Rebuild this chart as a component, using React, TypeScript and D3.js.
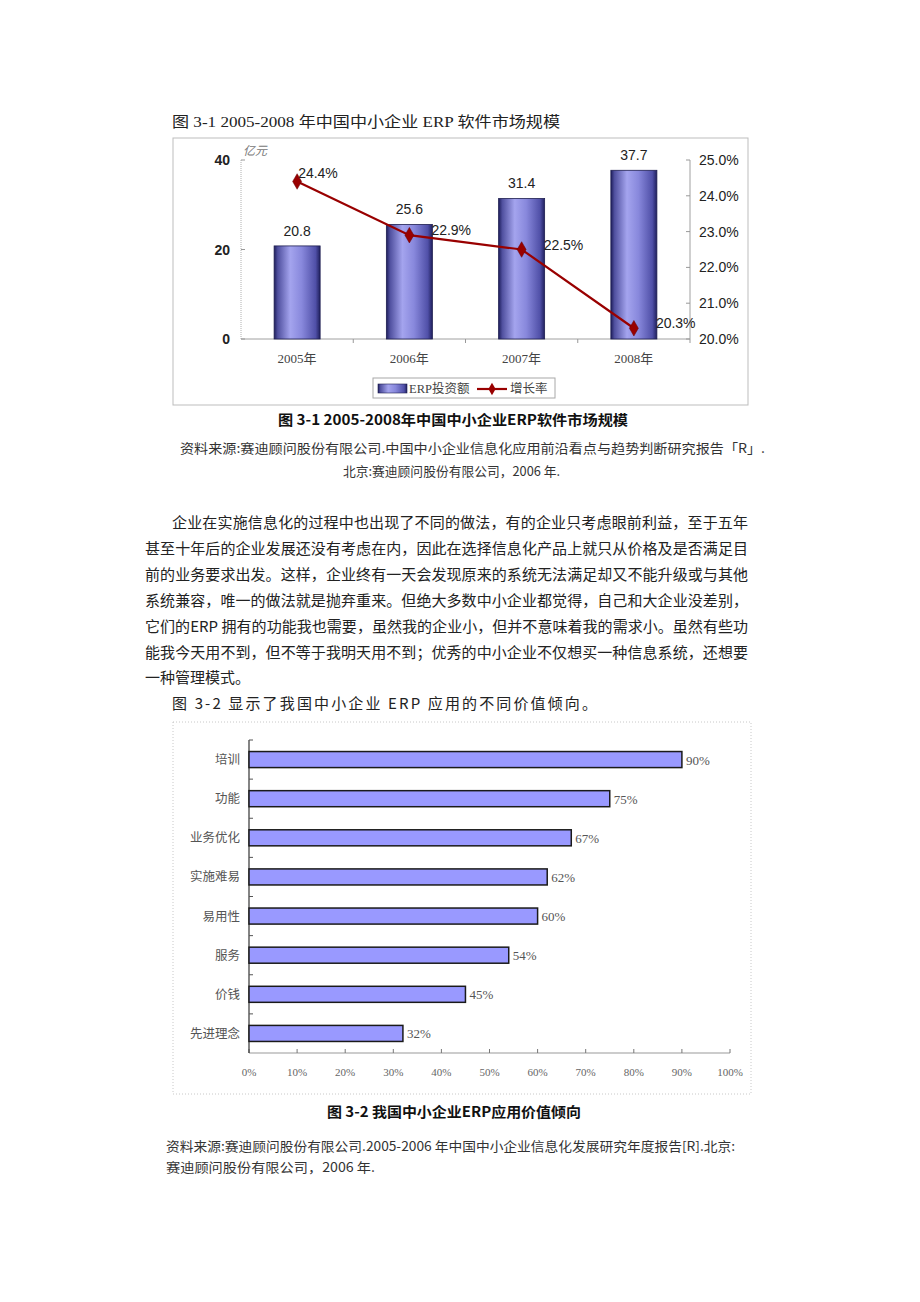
import React from "react";
import * as d3 from "d3";

// ---------- Chart 1 data ----------
const years = ["2005年", "2006年", "2007年", "2008年"];
const investment = [20.8, 25.6, 31.4, 37.7];
const growth = [24.4, 22.9, 22.5, 20.3];
const leftTicks = [0, 20, 40];
const rightTicks = [20, 21, 22, 23, 24, 25];

// ---------- Chart 2 data ----------
const factors = ["培训", "功能", "业务优化", "实施难易", "易用性", "服务", "价钱", "先进理念"];
const factorValues = [90, 75, 67, 62, 60, 54, 45, 32];
const xTicks = [0, 10, 20, 30, 40, 50, 60, 70, 80, 90, 100];

// ---------- Text ----------
const title1 = "图 3-1 2005-2008 年中国中小企业 ERP 软件市场规模";
const caption1 = "图 3-1 2005-2008年中国中小企业ERP软件市场规模";
const source1a = "资料来源:赛迪顾问股份有限公司.中国中小企业信息化应用前沿看点与趋势判断研究报告「R」.";
const source1b = "北京:赛迪顾问股份有限公司，2006 年.";
const paragraph = [
  "企业在实施信息化的过程中也出现了不同的做法，有的企业只考虑眼前利益，至于五年",
  "甚至十年后的企业发展还没有考虑在内，因此在选择信息化产品上就只从价格及是否满足目",
  "前的业务要求出发。这样，企业终有一天会发现原来的系统无法满足却又不能升级或与其他",
  "系统兼容，唯一的做法就是抛弃重来。但绝大多数中小企业都觉得，自己和大企业没差别，",
  "它们的ERP 拥有的功能我也需要，虽然我的企业小，但并不意味着我的需求小。虽然有些功",
  "能我今天用不到，但不等于我明天用不到；优秀的中小企业不仅想买一种信息系统，还想要",
  "一种管理模式。",
];
const intro2 = "图 3-2 显示了我国中小企业 ERP 应用的不同价值倾向。";
const caption2 = "图 3-2 我国中小企业ERP应用价值倾向";
const source2a = "资料来源:赛迪顾问股份有限公司.2005-2006 年中国中小企业信息化发展研究年度报告[R].北京:";
const source2b = "赛迪顾问股份有限公司，2006 年.";

const SERIF = "'Liberation Serif', 'Noto Sans CJK SC', serif";
const SANS = "'Liberation Sans', 'Noto Sans CJK SC', sans-serif";
const CJK = "'Noto Sans CJK SC', sans-serif";

export default function App() {
  // Chart 1 scales
  const x1 = d3.scaleBand<string>().domain(years).range([241, 690]).paddingInner(0.59).paddingOuter(0.295);
  const step1 = x1.step();
  const yL = d3.scaleLinear().domain([0, 40]).range([339, 160]);
  const yR = d3.scaleLinear().domain([20, 25]).range([339, 160]);
  const linePts = years.map((y, i) => [x1(y)! + x1.bandwidth() / 2, yR(growth[i])] as [number, number]);
  const lineGen = d3.line();

  // Chart 2 scales
  const x2 = d3.scaleLinear().domain([0, 100]).range([249, 730]);
  const y2 = d3.scaleBand<string>().domain(factors).range([740, 1053]).paddingInner(0.59).paddingOuter(0.295);
  const step2 = y2.step();

  const diamond = d3.symbol().type(d3.symbolDiamond).size(70)();

  return (
    <svg width={920} height={1302} style={{ position: "absolute", left: 0, top: 0, background: "#fff" }}>
      <defs>
        <linearGradient id="barGrad" x1="0" x2="1" y1="0" y2="0">
          <stop offset="0" stopColor="#1e1e5c" />
          <stop offset="0.08" stopColor="#50509f" />
          <stop offset="0.35" stopColor="#a4a4ee" />
          <stop offset="0.6" stopColor="#8888dc" />
          <stop offset="0.9" stopColor="#5050a8" />
          <stop offset="1" stopColor="#20205e" />
        </linearGradient>
      </defs>

      {/* Title above chart 1 */}
      <text x={172} y={127} fontFamily={SERIF} fontSize={15} fill="#222" textLength={388} lengthAdjust="spacingAndGlyphs">
        {title1}
      </text>

      {/* Chart 1 frame */}
      <rect x={173} y={138} width={575} height={267} fill="none" stroke="#bdbdbd" strokeWidth={1} />

      {/* axes */}
      <line x1={241} x2={241} y1={160} y2={339} stroke="#b0b0b0" strokeDasharray="1,1" />
      <line x1={241} x2={690} y1={339} y2={339} stroke="#a0a0a0" />
      <line x1={690} x2={690} y1={160} y2={339} stroke="#a0a0a0" />
      {leftTicks.map((t) => (
        <g key={"lt" + t}>
          <line x1={241} x2={245} y1={yL(t)} y2={yL(t)} stroke="#999" />
          <text x={230} y={yL(t) + 5} textAnchor="end" fontFamily={SANS} fontSize={14} fontWeight="bold" fill="#222">
            {t}
          </text>
        </g>
      ))}
      {rightTicks.map((t) => (
        <g key={"rt" + t}>
          <line x1={686} x2={690} y1={yR(t)} y2={yR(t)} stroke="#999" />
          <text x={699} y={yR(t) + 5} fontFamily={SANS} fontSize={14} fill="#222">
            {t.toFixed(1) + "%"}
          </text>
        </g>
      ))}
      {years.map((y, i) => (
        <line key={"bt" + i} x1={241 + step1 * (i + 1)} x2={241 + step1 * (i + 1)} y1={339} y2={343} stroke="#999" />
      ))}
      <text x={243} y={155} fontFamily={CJK} fontSize={12} fill="#777" fontStyle="italic">亿元</text>

      {/* bars */}
      {years.map((y, i) => (
        <g key={"b" + y}>
          <rect
            x={x1(y)!}
            y={yL(investment[i])}
            width={x1.bandwidth()}
            height={339 - yL(investment[i])}
            fill="url(#barGrad)"
            stroke="#1e1e50"
            strokeWidth={0.8}
          />
          <text x={x1(y)! + x1.bandwidth() / 2} y={yL(investment[i]) - 10} textAnchor="middle" fontFamily={SANS} fontSize={14} fill="#222">
            {investment[i]}
          </text>
          <text x={x1(y)! + x1.bandwidth() / 2} y={363} textAnchor="middle" fontFamily={SERIF} fontSize={13} fill="#444">
            {y}
          </text>
        </g>
      ))}

      {/* growth line */}
      <path d={lineGen(linePts)!} fill="none" stroke="#990000" strokeWidth={2.2} />
      {linePts.map((p, i) => (
        <g key={"p" + i}>
          <path d={diamond!} transform={`translate(${p[0]},${p[1]})`} fill="#990000" stroke="#660000" strokeWidth={0.5} />
          <text
            x={p[0] + (i === 0 ? 1 : 22)}
            y={p[1] + (i === 0 ? -3 : 0)}
            fontFamily={SANS}
            fontSize={14}
            fill="#222"
          >
            {growth[i].toFixed(1) + "%"}
          </text>
        </g>
      ))}

      {/* legend */}
      <rect x={373} y={378} width={182} height={20} fill="#fff" stroke="#a8a8a8" />
      <rect x={378} y={384} width={29} height={9} fill="url(#barGrad)" stroke="#1e1e50" strokeWidth={0.6} />
      <text x={409} y={393} fontFamily={SERIF} fontSize={12.5} fill="#444">ERP投资额</text>
      <line x1={477} x2={507} y1={389} y2={389} stroke="#990000" strokeWidth={2.2} />
      <path d={d3.symbol().type(d3.symbolDiamond).size(45)()!} transform="translate(492,389)" fill="#990000" />
      <text x={510} y={393} fontFamily={CJK} fontSize={12.5} fill="#444">增长率</text>

      {/* caption 1 */}
      <text x={453} y={425} textAnchor="middle" fontFamily={CJK} fontSize={14} fontWeight="bold" fill="#111" textLength={350} lengthAdjust="spacingAndGlyphs">
        {caption1}
      </text>
      <text x={180} y={453} fontFamily={CJK} fontSize={13} fill="#333" textLength={585} lengthAdjust="spacingAndGlyphs">
        {source1a}
      </text>
      <text x={343} y={476} fontFamily={CJK} fontSize={13} fill="#333" textLength={217} lengthAdjust="spacingAndGlyphs">
        {source1b}
      </text>

      {/* paragraph */}
      {paragraph.map((line, i) => {
        const x0 = i === 0 ? 172 : 145;
        const last = i === paragraph.length - 1;
        return (
          <text
            key={"para" + i}
            x={x0}
            y={528 + i * 25.9}
            fontFamily={CJK}
            fontSize={15}
            fill="#222"
            {...(last ? {} : { textLength: 748 - x0, lengthAdjust: "spacing" })}
          >
            {line}
          </text>
        );
      })}
      <text x={172} y={709} fontFamily={CJK} fontSize={15} fill="#222" textLength={425} lengthAdjust="spacing">
        {intro2}
      </text>

      {/* Chart 2 frame */}
      <rect x={173} y={722} width={578} height={372} fill="none" stroke="#c8c8c8" strokeDasharray="1,2" />

      {/* chart 2 axes */}
      <line x1={249} x2={730} y1={1053} y2={1053} stroke="#999" />
      {xTicks.map((t) => (
        <g key={"xt" + t}>
          <line x1={x2(t)} x2={x2(t)} y1={1053} y2={1049} stroke="#777" />
          <text x={x2(t)} y={1076} textAnchor="middle" fontFamily={SERIF} fontSize={11} fill="#666">
            {t + "%"}
          </text>
        </g>
      ))}
      <line x1={249} x2={249} y1={740} y2={1053} stroke="#333" strokeWidth={1.2} />
      {factors.map((f, i) => (
        <line key={"yt" + i} x1={249} x2={253} y1={740 + step2 * i} y2={740 + step2 * i} stroke="#555" />
      ))}

      {/* chart 2 bars */}
      {factors.map((f, i) => (
        <g key={"f" + f}>
          <rect
            x={x2(0)}
            y={y2(f)!}
            width={x2(factorValues[i]) - x2(0)}
            height={y2.bandwidth()}
            fill="#9999ff"
            stroke="#1a1a1a"
            strokeWidth={1.5}
          />
          <text x={240} y={y2(f)! + y2.bandwidth() / 2 + 4.5} textAnchor="end" fontFamily={CJK} fontSize={12.5} fill="#555">
            {f}
          </text>
          <text x={x2(factorValues[i]) + 4} y={y2(f)! + y2.bandwidth() / 2 + 5} fontFamily={SERIF} fontSize={13} fill="#555">
            {factorValues[i] + "%"}
          </text>
        </g>
      ))}

      {/* caption 2 */}
      <text x={454} y={1117} textAnchor="middle" fontFamily={CJK} fontSize={14} fontWeight="bold" fill="#111" textLength={254} lengthAdjust="spacingAndGlyphs">
        {caption2}
      </text>
      <text x={166} y={1151} fontFamily={CJK} fontSize={13} fill="#333" textLength={569} lengthAdjust="spacingAndGlyphs">
        {source2a}
      </text>
      <text x={166} y={1172} fontFamily={CJK} fontSize={13} fill="#333" textLength={209} lengthAdjust="spacingAndGlyphs">
        {source2b}
      </text>
    </svg>
  );
}
